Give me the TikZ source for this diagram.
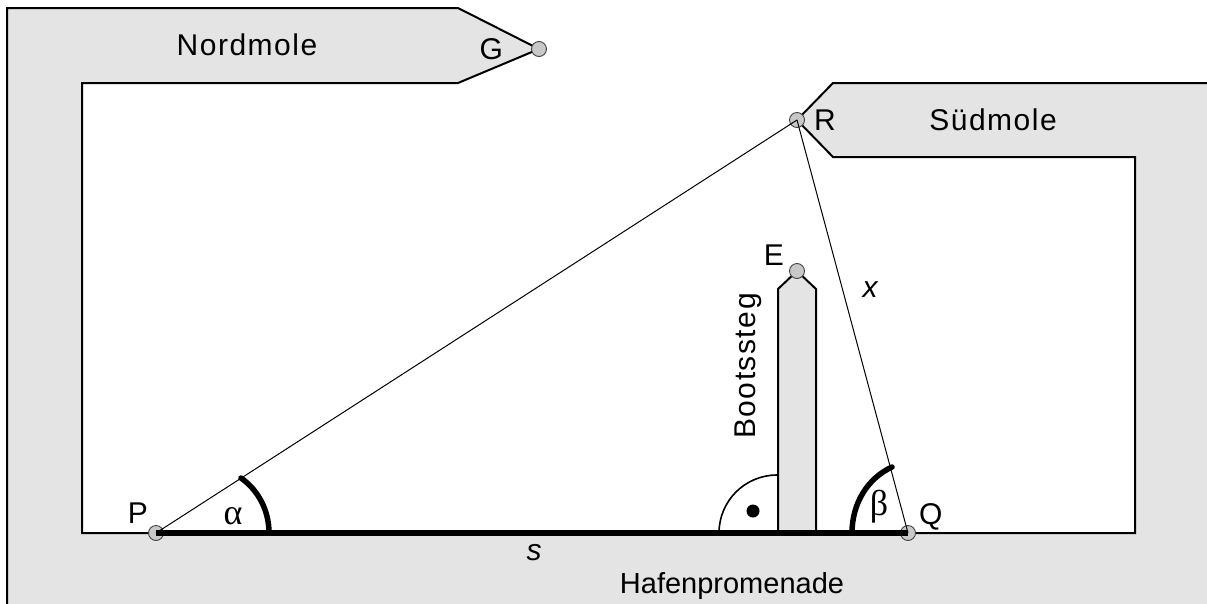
\documentclass[tikz,border=0pt]{standalone}
\usepackage{fontspec}
\setmainfont{Liberation Sans}[LetterSpace=5]
\newfontfamily\plainfont{Liberation Sans}
\newfontfamily\greekfont{Liberation Serif}
\usetikzlibrary{positioning}
\definecolor{mole}{HTML}{E4E4E4}
\definecolor{punkt}{HTML}{C8C8C8}
\tikzset{
    pt/.style={circle, draw=black!75, fill=punkt, line width=0.9pt, minimum size=15pt, inner sep=0pt},
    lbl/.style={inner sep=0pt, font=\fontsize{30}{30}\selectfont},
    sym/.style={inner sep=0pt, font=\fontsize{36}{36}\selectfont\greekfont},
    land/.style={fill=mole, draw=black, line width=2pt, line join=miter},
    ray/.style={line width=1pt},
    thickline/.style={line width=5.5pt},
}
\begin{document}
\begin{tikzpicture}[x=1pt, y=-1pt]
            \useasboundingbox (0,0) rectangle (1207,603);
            \draw[land] (7,640) -- (7,8) -- (458,8) -- (539,49) -- (458,83) -- (82,83) -- (82,533) -- (1135,533) -- (1135,157) -- (833,157) -- (797,120) -- (833,83) -- (1240,83) -- (1240,640) -- cycle;
            \draw[land] (778,533) -- (778,289) -- (797,271) -- (816,289) -- (816,533);
            \draw[line width=1.6pt] (719,533) arc[start angle=180, end angle=90, radius=58pt];
            \fill (753,511) circle[radius=6.5pt];
            \node[pt] (P) at (156,533) {};
            \node[pt] (Q) at (908,533) {};
            \node[pt] (R) at (797,120) {};
            \node[pt] (G) at (539,49) {};
            \node[pt] (E) at (797,271) {};
            \node[lbl] (nord) at (247,45) {Nordmole};
            \node[lbl] (sued) at (993,120) {Südmole};
            \node[lbl, font=\fontsize{29}{29}\selectfont\plainfont] (hafen) at (732,586) {Hafenpromenade};
            \node[lbl, rotate=90] (steg) at (748,366) {Bootssteg};
            \node[lbl, left=0pt of P, xshift=0pt, yshift=20pt] (lP) {P};
            \node[lbl, right=0pt of Q, xshift=3pt, yshift=16pt] (lQ) {Q};
            \node[lbl, right=9pt of R] (lR) {R};
            \node[lbl, left=28pt of G] (lG) {G};
            \node[lbl, left=5pt of E, yshift=16pt] (lE) {E};
            \node[lbl, font=\fontsize{30}{30}\selectfont\itshape] (lx) at (870,290) {x};
            \node[lbl, font=\fontsize{30}{30}\selectfont\itshape] (ls) at (534,553) {s};
            \node[sym] (alpha) at (233,516) {α};
            \node[sym] (beta) at (879,507) {β};
            \draw[ray] (P.center) -- (R.center);
            \draw[ray] (Q.center) -- (R.center);
            \draw[thickline] (P.center) -- (Q.center);
            \draw[thickline, line cap=round] (269,533) .. controls (269,510) and (258,490) .. (241,478);
            \draw[thickline, line cap=round] (852,533) .. controls (852,503) and (868,478) .. (892,467);
        \end{tikzpicture}
\end{document}
